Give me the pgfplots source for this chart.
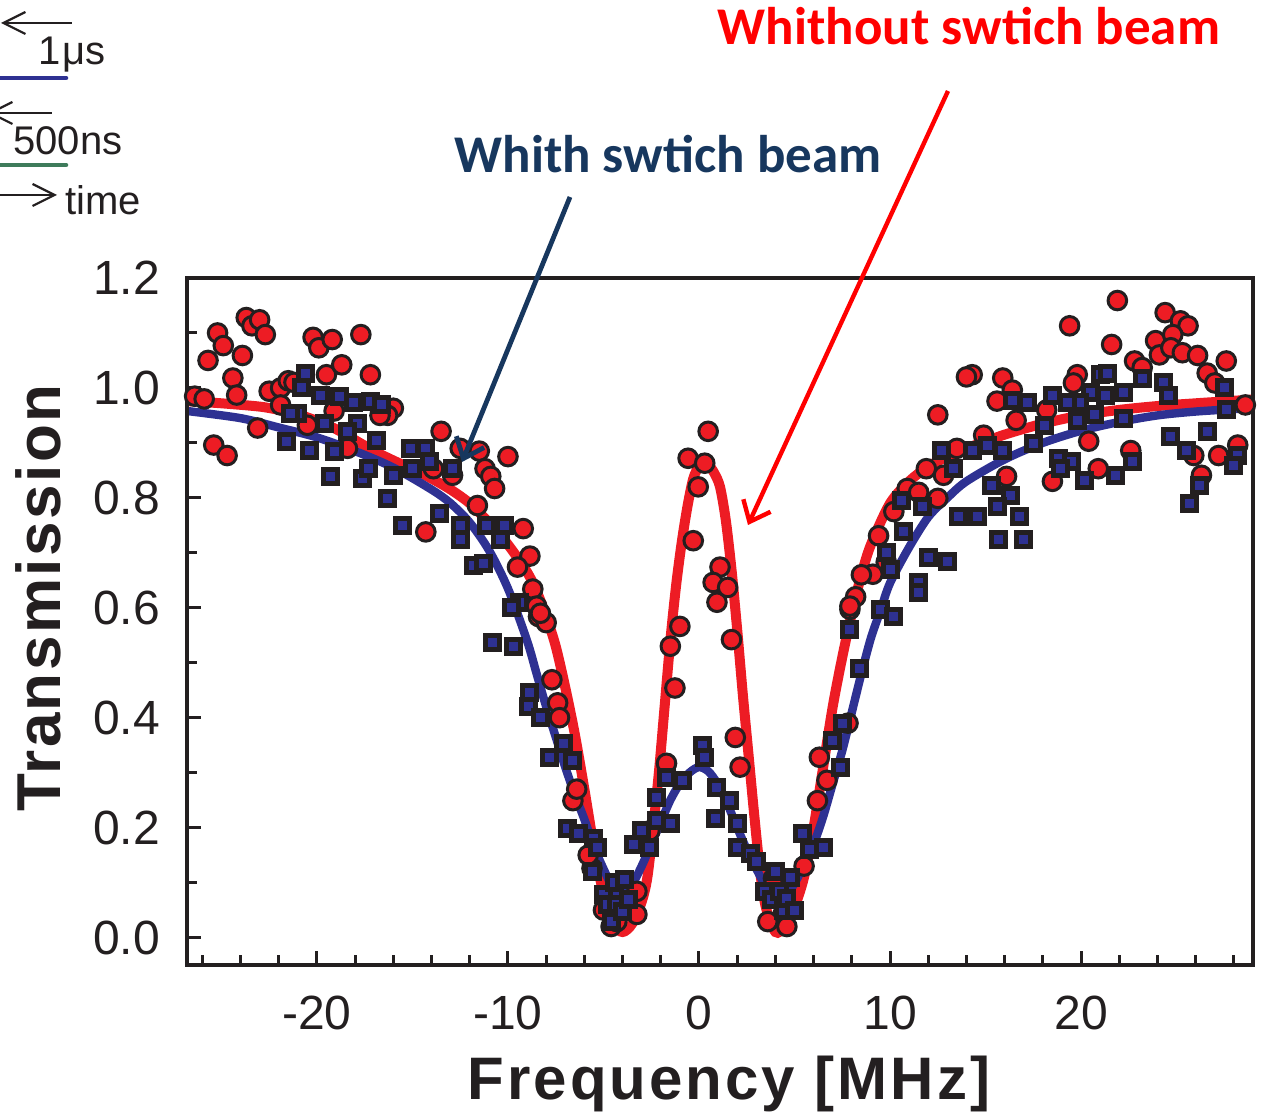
\documentclass[border=0pt]{standalone}
\usepackage{pgfplots}
\pgfplotsset{compat=1.18}
\usepackage{fontspec}
\setmainfont{Liberation Sans}
\newfontfamily\calib{Carlito}
\usetikzlibrary{arrows.meta}
\definecolor{rfill}{HTML}{ED1C24}
\definecolor{bfill}{HTML}{2E3192}
\definecolor{edge}{HTML}{231F20}
\definecolor{navy}{HTML}{17375E}
\definecolor{ann}{HTML}{FF0000}
\definecolor{grn}{HTML}{3E7B5B}

\pgfplotstableread{
f T
-26.4 0.985
-25.9 0.98
-25.7 1.05
-25.2 1.10
-24.9 1.077
-25.4 0.896
-24.7 0.877
-24.4 1.018
-24.2 0.987
-23.9 1.059
-23.7 1.128
-23.4 1.113
-23.0 1.124
-22.7 1.097
-23.1 0.927
-22.5 0.994
-21.9 1.0
-21.5 1.013
-21.2 1.01
-21.9 0.969
-20.2 1.092
-19.9 1.073
-19.2 1.088
-17.7 1.097
-19.5 1.024
-18.7 1.042
-17.2 1.024
-16.0 0.963
-16.3 0.95
-19.1 0.958
-20.5 0.932
-18.4 0.89
-16.7 0.95
-13.5 0.921
-12.5 0.89
-11.5 0.885
-10.0 0.875
-11.2 0.853
-10.9 0.839
-10.7 0.817
-13.9 0.853
-14.3 0.738
-11.6 0.786
-12.9 0.841
-9.2 0.744
-8.85 0.694
-9.5 0.674
-8.7 0.634
-8.5 0.603
-8.4 0.584
-8.0 0.573
-8.3 0.59
-7.7 0.469
-7.4 0.427
-7.3 0.40
-6.6 0.249
-6.4 0.27
-5.6 0.126
-5.8 0.15
-5.0 0.05
-4.6 0.02
-4.3 0.029
-3.25 0.084
-3.25 0.042
-2.57 0.194
-1.7 0.317
-1.5 0.53
-1.0 0.566
-1.26 0.454
0.94 0.61
1.7 0.542
1.9 0.364
2.15 0.31
3.9 0.108
4.4 0.042
3.6 0.029
4.6 0.02
5.5 0.13
6.2 0.249
6.3 0.328
6.7 0.286
7.8 0.39
7.9 0.597
0.48 0.921
-0.57 0.872
0.3 0.863
-0.04 0.82
-0.3 0.722
1.1 0.674
0.74 0.646
1.5 0.637
21.9 1.159
19.4 1.113
21.6 1.079
24.4 1.137
25.2 1.122
25.6 1.113
23.9 1.086
24.8 1.097
24.1 1.06
24.7 1.073
25.3 1.064
26.1 1.059
27.6 1.049
22.8 1.049
23.2 1.037
26.6 1.027
27.0 1.009
14.3 1.024
14.0 1.02
15.9 1.018
16.4 0.996
19.8 1.024
19.6 1.009
15.6 0.976
12.5 0.951
16.6 0.941
18.2 0.96
14.9 0.914
20.4 0.903
22.6 0.886
25.9 0.877
27.2 0.877
28.2 0.896
26.3 0.841
20.9 0.853
18.5 0.83
16.1 0.839
13.5 0.89
11.9 0.853
12.8 0.841
10.9 0.817
12.5 0.799
11.5 0.81
10.2 0.775
9.4 0.731
9.8 0.683
9.1 0.661
8.5 0.66
8.2 0.62
7.9 0.603
28.6 0.969
}\reddata

\pgfplotstableread{
f T
-20.6 1.027
-20.8 1.0
-19.8 0.987
-18.8 0.985
-18.1 0.973
-17.2 0.976
-16.6 0.969
-21.0 0.954
-21.4 0.954
-19.6 0.936
-17.9 0.936
-18.4 0.921
-21.6 0.903
-20.4 0.886
-19.1 0.885
-16.9 0.905
-19.3 0.839
-17.6 0.835
-17.3 0.853
-16.3 0.799
-16.0 0.841
-15.1 0.89
-14.3 0.89
-14.1 0.866
-15.0 0.853
-12.9 0.853
-15.5 0.749
-13.6 0.771
-12.5 0.749
-12.5 0.725
-11.1 0.749
-10.2 0.749
-10.4 0.725
-11.8 0.676
-11.3 0.68
-9.4 0.61
-10.8 0.536
-9.7 0.53
-9.8 0.60
-8.85 0.445
-8.95 0.42
-8.3 0.40
-7.8 0.328
-7.1 0.353
-6.6 0.322
-6.9 0.198
-6.3 0.189
-5.5 0.181
-5.3 0.163
-5.6 0.12
-5.0 0.079
-4.8 0.06
-4.6 0.03
-4.4 0.10
-4.3 0.06
-4.0 0.048
-3.9 0.106
-3.7 0.07
-3.45 0.17
-3.0 0.194
-2.57 0.163
-2.2 0.212
-2.2 0.255
-1.5 0.207
-1.7 0.291
-0.84 0.286
0.16 0.35
0.3 0.328
0.94 0.273
1.6 0.249
0.85 0.216
2.0 0.207
2.0 0.163
2.7 0.152
3.0 0.139
3.45 0.084
3.8 0.07
4.0 0.12
4.2 0.084
4.4 0.05
4.6 0.071
4.8 0.11
5.0 0.05
5.4 0.189
5.8 0.16
6.5 0.163
7.4 0.31
7.0 0.359
7.5 0.39
7.9 0.56
8.4 0.49
21.0 1.024
21.4 1.027
23.2 1.018
24.3 1.009
27.5 1.0
24.6 0.987
22.2 0.991
21.3 0.987
20.5 0.991
19.9 0.973
19.3 0.973
18.5 0.987
17.2 0.973
16.4 0.978
20.7 0.951
19.8 0.941
18.1 0.932
22.2 0.945
27.6 0.96
26.6 0.921
24.7 0.912
25.5 0.886
28.2 0.877
28.0 0.859
22.7 0.866
26.2 0.822
25.7 0.789
17.5 0.899
15.9 0.886
15.1 0.896
14.3 0.886
12.7 0.886
13.3 0.853
18.8 0.872
19.5 0.866
18.9 0.853
20.2 0.832
21.8 0.841
15.3 0.822
16.3 0.804
15.6 0.784
13.6 0.766
14.6 0.766
16.8 0.766
15.7 0.725
17.0 0.725
10.6 0.795
11.7 0.784
10.7 0.738
9.8 0.701
12.0 0.692
13.0 0.685
10.0 0.67
11.5 0.646
11.5 0.628
9.5 0.597
10.2 0.584
}\bluedata

\pgfplotstableread{
f T
-26.8 0.976
-25 0.972
-23 0.966
-22 0.96
-21 0.952
-20 0.94
-19 0.925
-18 0.905
-17 0.885
-16 0.868
-15 0.852
-14 0.835
-13 0.815
-12 0.79
-11 0.755
-10 0.715
-9 0.665
-8.5 0.63
-8 0.585
-7.5 0.53
-7 0.455
-6.5 0.37
-6 0.27
-5.5 0.165
-5 0.08
-4.5 0.025
-4 0.01
-3.5 0.025
-3 0.065
-2.7 0.11
-2.4 0.2
-2.1 0.3
-1.8 0.42
-1.5 0.54
-1.2 0.64
-0.9 0.72
-0.6 0.785
-0.3 0.835
0 0.858
0.2 0.866
0.5 0.86
0.8 0.845
1.1 0.82
1.4 0.76
1.7 0.67
2.0 0.56
2.3 0.44
2.6 0.33
2.9 0.22
3.2 0.12
3.5 0.055
4.0 0.01
4.5 0.02
5.0 0.055
5.5 0.11
6.0 0.2
6.5 0.31
7.0 0.42
7.5 0.51
8.0 0.59
8.5 0.66
9.0 0.715
10 0.79
11 0.83
12 0.857
13 0.875
14 0.89
16 0.915
18 0.935
20 0.95
22 0.96
24 0.967
26 0.972
29.5 0.98
}\redfit

\pgfplotstableread{
f T
-26.8 0.958
-24 0.945
-22 0.928
-20 0.91
-18 0.885
-16 0.855
-14 0.815
-13 0.79
-12 0.755
-11 0.705
-10 0.635
-9 0.54
-8.5 0.48
-8 0.42
-7.5 0.365
-7 0.31
-6.5 0.26
-6 0.215
-5.5 0.165
-5 0.125
-4.5 0.09
-4.1 0.078
-3.6 0.09
-3 0.13
-2.5 0.17
-2 0.21
-1.5 0.25
-1 0.28
-0.5 0.3
0 0.31
0.5 0.302
1 0.278
1.5 0.242
2 0.2
2.5 0.16
3 0.125
3.5 0.095
4.2 0.078
4.8 0.088
5.4 0.125
6 0.17
6.5 0.22
7 0.28
7.5 0.34
8 0.41
8.5 0.48
9 0.545
9.5 0.595
10 0.645
11 0.71
12 0.765
13 0.8
14 0.83
16 0.87
18 0.9
20 0.922
22 0.938
24 0.95
26 0.957
28.3 0.962
}\bluefit

\begin{document}
\begin{tikzpicture}
\useasboundingbox (0,0) rectangle (632pt,556.5pt);
\begin{axis}[
  at={(93.5pt,74pt)}, anchor=south west,
  scale only axis, width=533pt, height=343.5pt,
  xmin=-26.8, xmax=29, ymin=-0.05, ymax=1.2,
  axis on top,
  axis line style={line width=2pt, draw=edge},
  tick align=inside,
  xtick pos=bottom, ytick pos=left,
  xtick={-20,-10,0,10,20},
  minor xtick={-26,-24,-22,-18,-16,-14,-12,-8,-6,-4,-2,2,4,6,8,12,14,16,18,22,24,26,28},
  ytick={0,0.2,0.4,0.6,0.8,1.0,1.2},
  minor ytick={0.1,0.3,0.5,0.7,0.9,1.1},
  major tick length=7pt, minor tick length=5pt,
  tick style={line width=1.5pt, draw=edge},
  /pgf/number format/assume math mode=true,
  ticklabel style={font=\fontsize{24}{24}\selectfont, text=edge},
  yticklabel={\pgfmathprintnumber[fixed,fixed zerofill,precision=1]{\tick}},
  yticklabel style={xshift=-10pt},
  xticklabel style={yshift=-12pt},
]
\addplot[only marks, mark=*, mark size=4.65pt, draw=edge, fill=rfill, line width=1.5pt] table[x=f,y=T] {\reddata};
\addplot[rfill, line width=5pt, smooth, no marks] table[x=f,y=T] {\redfit};
\addplot[only marks, mark=square*, mark size=3.5pt, draw=edge, fill=bfill, line width=2.5pt] table[x=f,y=T] {\bluedata};
\addplot[bfill, line width=4.2pt, smooth, no marks] table[x=f,y=T] {\bluefit};
\end{axis}

% axis labels
\node[anchor=base, font=\bfseries\fontsize{30}{30}\selectfont\addfontfeature{LetterSpace=5}, text=edge] at (364.5pt,6.5pt) {Frequency [MHz]};
\node[anchor=base, rotate=90, font=\bfseries\fontsize{31}{31}\selectfont\addfontfeature{LetterSpace=4}, text=edge] at (30pt,257.5pt) {Transmission};

% annotations
\node[anchor=base, font=\calib\bfseries\fontsize{26.5}{26.5}\selectfont, text=ann] at (484.5pt,534pt) {Whithout swtich beam};
\node[anchor=base, font=\calib\bfseries\fontsize{26.5}{26.5}\selectfont, text=navy] at (334pt,470pt) {Whith swtich beam};
\draw[navy, line width=2.4pt, -{Straight Barb[length=9pt,width=15pt,line width=2.4pt]}] (285pt,458pt) -- (231pt,325.5pt);
\draw[ann, line width=2.2pt, -{Straight Barb[length=9pt,width=15pt,line width=2.2pt]}] (474pt,511pt) -- (374pt,294pt);

% inset (clipped piece of another figure)
\draw[edge, line width=1pt, {Straight Barb[length=11pt,width=11pt,line width=1.1pt]}-] (0.5pt,545pt) -- (36pt,545pt);
\node[anchor=base west, font=\fontsize{20}{20}\selectfont, text=edge, inner sep=0pt] at (19pt,524pt) {1\kern1pt μs};
\draw[bfill, line width=2.3pt, line cap=round] (-2pt,517.5pt) -- (33pt,517.5pt);
\draw[edge, line width=1pt, {Straight Barb[length=11pt,width=11pt,line width=1.1pt]}-] (-6pt,500pt) -- (26pt,500pt);
\node[anchor=base west, font=\fontsize{20}{20}\selectfont, text=edge, inner sep=0pt] at (6.5pt,479pt) {500ns};
\draw[grn, line width=2.3pt, line cap=round] (-2pt,474pt) -- (33pt,474pt);
\draw[edge, line width=1pt, -{Straight Barb[length=11pt,width=11pt,line width=1.1pt]}] (-2pt,459pt) -- (28.5pt,459pt);
\node[anchor=base west, font=\fontsize{20}{20}\selectfont, text=edge, inner sep=0pt] at (32.5pt,449pt) {time};
\end{tikzpicture}
\end{document}
